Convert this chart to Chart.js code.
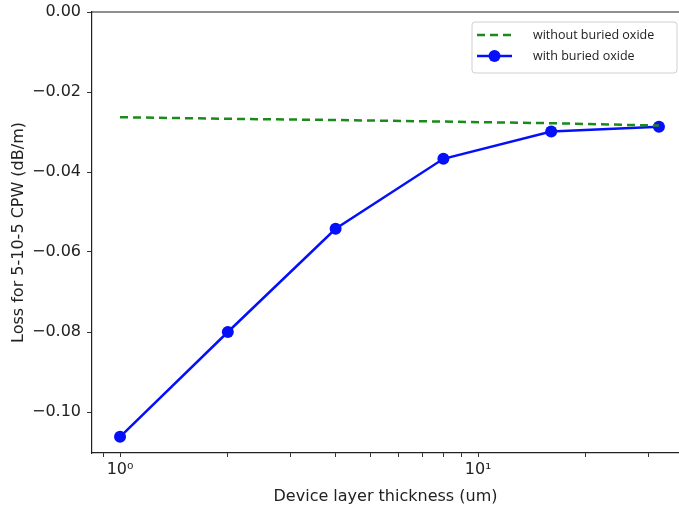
<!DOCTYPE html>
<html>
<head>
<meta charset="utf-8">
<style>
  html, body { margin: 0; padding: 0; background: #fff; overflow: hidden; }
  /* a few px wider than the window: the right spine falls outside, as in the source */
  #wrap { width: 685px; height: 510px; position: relative; }
</style>
<script src="https://cdn.jsdelivr.net/npm/chart.js@4/dist/chart.umd.min.js"></script>
</head>
<body>
<div id="wrap"><canvas id="c"></canvas></div>
<script>
// thickness (um) on the log axis
var THICKNESS = [1, 2, 4, 8, 16, 32];
var WITH_BOX = [-0.1062, -0.0800, -0.0542, -0.0367, -0.0299, -0.0287];
var WITHOUT_BOX = [-0.0263, -0.0267, -0.0270, -0.0274, -0.0278, -0.0284];
var SERIES_LABELS = ['without buried oxide', 'with buried oxide'];
var X_TICKS = [0.9, 1, 2, 3, 4, 5, 6, 7, 8, 9, 10, 20, 30];
var X_TICK_LABELS = { 1: '10\u2070', 10: '10\u00b9' };
var Y_TICKS = [-0.10, -0.08, -0.06, -0.04, -0.02, 0.00];

function pts(ys) {
  return THICKNESS.map(function (x, i) { return { x: x, y: ys[i] }; });
}

var AXIS_FONT = 'DejaVu Sans';

// top spine + boxed legend, matplotlib-like
var frame = {
  id: 'frame',
  afterDraw: function (chart) {
    var ctx = chart.ctx, a = chart.chartArea;
    ctx.save();
    ctx.strokeStyle = '#222';
    ctx.lineWidth = 1.2;
    ctx.beginPath();
    ctx.moveTo(a.left, a.top);
    ctx.lineTo(a.right, a.top);
    ctx.stroke();

    // legend box
    var bx = 472, by = 22, bw = 205, bh = 51, r = 3;
    ctx.fillStyle = 'rgba(255,255,255,0.85)';
    ctx.strokeStyle = '#d0d0d0';
    ctx.lineWidth = 1;
    ctx.beginPath();
    ctx.moveTo(bx + r, by);
    ctx.arcTo(bx + bw, by, bx + bw, by + bh, r);
    ctx.arcTo(bx + bw, by + bh, bx, by + bh, r);
    ctx.arcTo(bx, by + bh, bx, by, r);
    ctx.arcTo(bx, by, bx + bw, by, r);
    ctx.closePath();
    ctx.fill();
    ctx.stroke();

    var ds = chart.data.datasets;
    var rows = [35, 56];
    ctx.font = '12.5px "Open Sans"';
    ctx.textBaseline = 'middle';
    ds.forEach(function (d, i) {
      var y = rows[i];
      ctx.strokeStyle = d.borderColor;
      ctx.lineWidth = d.borderWidth;
      ctx.setLineDash(d.borderDash || []);
      ctx.beginPath();
      ctx.moveTo(477, y);
      ctx.lineTo(512, y);
      ctx.stroke();
      ctx.setLineDash([]);
      if (d.pointRadius > 0) {
        ctx.fillStyle = d.pointBackgroundColor;
        ctx.beginPath();
        ctx.arc(494.5, y, d.pointRadius, 0, Math.PI * 2);
        ctx.fill();
      }
      ctx.fillStyle = '#222';
      ctx.fillText(d.label, 533, y);
    });
    ctx.restore();
  }
};

new Chart(document.getElementById('c'), {
  type: 'line',
  data: {
    datasets: [
      {
        label: SERIES_LABELS[0],
        data: pts(WITHOUT_BOX),
        borderColor: '#1a8a1a',
        borderWidth: 2.5,
        borderDash: [8, 5],
        pointRadius: 0,
        fill: false,
        tension: 0
      },
      {
        label: SERIES_LABELS[1],
        data: pts(WITH_BOX),
        borderColor: '#0510f8',
        backgroundColor: '#0510f8',
        pointBackgroundColor: '#0510f8',
        pointBorderColor: '#0510f8',
        borderWidth: 2.5,
        pointRadius: 6,
        pointBorderWidth: 0,
        fill: false,
        tension: 0
      }
    ]
  },
  options: {
    responsive: true,
    maintainAspectRatio: false,
    animation: false,
    layout: { padding: { top: 12, right: 0, left: 0, bottom: 0 } },
    plugins: {
      legend: { display: false },
      tooltip: { enabled: false }
    },
    scales: {
      x: {
        type: 'logarithmic',
        min: 0.835,
        max: 36.4,
        afterBuildTicks: function (s) { s.ticks = X_TICKS.map(function (v) { return { value: v }; }); },
        afterFit: function (s) { s.height = 57; },
        ticks: {
          autoSkip: false,
          maxRotation: 0,
          padding: 3,
          color: '#222',
          font: { family: AXIS_FONT, size: 16 },
          callback: function (v) { return X_TICK_LABELS[v] || ''; }
        },
        grid: { drawOnChartArea: false, drawTicks: true, tickLength: 4, color: '#333' },
        border: { display: true, color: '#222', width: 1.2 },
        title: {
          display: true,
          text: 'Device layer thickness (um)',
          color: '#222',
          font: { family: AXIS_FONT, size: 16 },
          padding: { top: 4, bottom: 4 }
        }
      },
      y: {
        min: -0.11025,
        max: 0,
        afterBuildTicks: function (s) { s.ticks = Y_TICKS.map(function (v) { return { value: v }; }); },
        afterFit: function (s) { s.width = 92; s.paddingTop = 0; s.paddingBottom = 0; },
        ticks: {
          padding: 6,
          color: '#222',
          font: { family: AXIS_FONT, size: 16 },
          callback: function (v) { return v.toFixed(2).replace('-', '\u2212'); }
        },
        grid: { drawOnChartArea: false, drawTicks: true, tickLength: 5, color: '#333' },
        border: { display: true, color: '#222', width: 1.2 },
        title: {
          display: true,
          text: 'Loss for 5-10-5 CPW (dB/m)',
          color: '#222',
          font: { family: AXIS_FONT, size: 16 },
          padding: { top: 9, bottom: 9 }
        }
      }
    }
  },
  plugins: [frame]
});
</script>
</body>
</html>
